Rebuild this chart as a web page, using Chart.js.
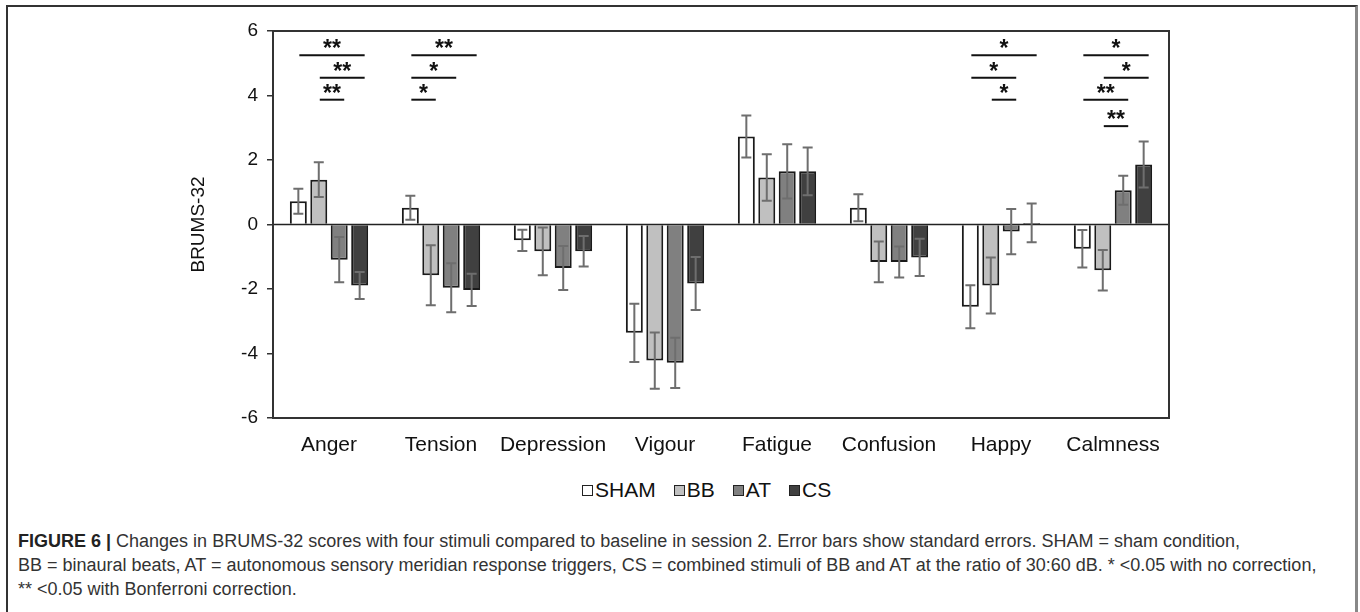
<!DOCTYPE html>
<html>
<head>
<meta charset="utf-8">
<script src="https://cdn.jsdelivr.net/npm/chart.js@4.4.0/dist/chart.umd.min.js"></script>
<style>
    body { margin: 0; width: 1360px; height: 612px; overflow: hidden; background: #fff; font-family: "Liberation Sans", Arial, sans-serif; }
    .frame { position: absolute; left: 6px; top: 5px; width: 1347px; height: 640px; border-left: 2px solid #333; border-top: 2px solid #333; border-right: 3px solid #888; }
    #wrap { position: absolute; left: 0; top: 0; width: 1360px; height: 470px; }
    #legend { position: absolute; left: 582px; top: 478px; display: flex; font-size: 21px; color: #111; }
    #legend .item { display: flex; align-items: center; margin-right: 18px; }
    #legend .box { width: 9px; height: 9px; border: 1px solid #222; margin-right: 2px; }
    .caption { position: absolute; left: 18px; top: 529px; font-size: 18px; line-height: 24px; color: #333; white-space: nowrap; }
    .caption b { color: #222; }
</style>
</head>
<body>
<div class="frame"></div>
<div id="wrap"><canvas id="chart" width="1360" height="470"></canvas></div>
<div id="legend"></div>
<div class="caption">
<b>FIGURE 6 |</b> Changes in BRUMS-32 scores with four stimuli compared to baseline in session 2. Error bars show standard errors. SHAM = sham condition,<br>
BB = binaural beats, AT = autonomous sensory meridian response triggers, CS = combined stimuli of BB and AT at the ratio of 30:60 dB. * &lt;0.05 with no correction,<br>
** &lt;0.05 with Bonferroni correction.
</div>
<script>
// values (change from baseline)
const categories = ['Anger', 'Tension', 'Depression', 'Vigour', 'Fatigue', 'Confusion', 'Happy', 'Calmness'];
const seriesNames = ['SHAM', 'BB', 'AT', 'CS'];

const sham = [0.72, 0.52, -0.49, -3.36, 2.73, 0.52, -2.55, -0.75];
const bb = [1.39, -1.57, -0.83, -4.22, 1.46, -1.16, -1.89, -1.42];
const at = [-1.09, -1.96, -1.35, -4.29, 1.65, -1.16, -0.22, 1.06];
const cs = [-1.89, -2.03, -0.83, -1.83, 1.65, -1.02, 0.05, 1.86];

// standard errors
const shamSE = [0.39, 0.37, 0.33, 0.90, 0.65, 0.42, 0.67, 0.58];
const bbSE = [0.54, 0.93, 0.74, 0.87, 0.72, 0.63, 0.87, 0.63];
const atSE = [0.70, 0.76, 0.68, 0.78, 0.84, 0.48, 0.70, 0.45];
const csSE = [0.42, 0.50, 0.47, 0.82, 0.74, 0.58, 0.60, 0.71];

const yTicks = [-6, -4, -2, 0, 2, 4, 6];

// significance brackets: category index, from series, to series, height, label
const sigCat = [0, 0, 0, 1, 1, 1, 6, 6, 6, 7, 7, 7, 7];
const sigFrom = [0, 1, 1, 0, 0, 0, 0, 0, 1, 0, 1, 0, 1];
const sigTo = [3, 3, 2, 3, 2, 1, 3, 2, 2, 3, 3, 2, 2];
const sigLevel = [5.25, 4.55, 3.87, 5.25, 4.55, 3.87, 5.25, 4.55, 3.87, 5.25, 4.55, 3.87, 3.05];
const sigLabel = ['**', '**', '**', '**', '*', '*', '*', '*', '*', '*', '*', '**', '**'];

const fills = ['#ffffff', '#c0c0c0', '#808080', '#404040'];
const values = [sham, bb, at, cs];
const errors = [shamSE, bbSE, atSE, csSE];

Chart.defaults.font.family = '"Liberation Sans", Arial, sans-serif';
Chart.defaults.color = '#111';

const datasets = seriesNames.map((name, i) => ({
    label: name,
    data: values[i],
    errors: errors[i],
    backgroundColor: fills[i],
    borderColor: '#1a1a1a',
    borderWidth: 2,
    categoryPercentage: 0.73,
    barPercentage: 0.83
}));

// frame around the plot and the zero line
const framePlugin = {
    id: 'frame',
    afterDatasetsDraw(chart) {
        const { ctx, chartArea: a, scales } = chart;
        const y0 = scales.y.getPixelForValue(0);
        ctx.save();
        ctx.strokeStyle = '#222';
        ctx.lineWidth = 1.5;
        ctx.beginPath();
        ctx.moveTo(a.left, y0);
        ctx.lineTo(a.right, y0);
        ctx.stroke();
        ctx.strokeStyle = '#333';
        ctx.lineWidth = 2;
        ctx.strokeRect(a.left, a.top, a.right - a.left, a.bottom - a.top);
        ctx.restore();
    }
};

// standard error bars
const errorBarPlugin = {
    id: 'errorBars',
    afterDatasetsDraw(chart) {
        const { ctx, scales } = chart;
        ctx.save();
        ctx.strokeStyle = '#6e6e6e';
        ctx.lineWidth = 2;
        chart.data.datasets.forEach((ds, i) => {
            chart.getDatasetMeta(i).data.forEach((bar, j) => {
                const v = ds.data[j];
                const e = ds.errors[j];
                const top = scales.y.getPixelForValue(v + e);
                const bot = scales.y.getPixelForValue(v - e);
                ctx.beginPath();
                ctx.moveTo(bar.x, top);
                ctx.lineTo(bar.x, bot);
                ctx.moveTo(bar.x - 5, top);
                ctx.lineTo(bar.x + 5, top);
                ctx.moveTo(bar.x - 5, bot);
                ctx.lineTo(bar.x + 5, bot);
                ctx.stroke();
            });
        });
        ctx.restore();
    }
};

// significance lines with asterisks
const sigPlugin = {
    id: 'sig',
    afterDatasetsDraw(chart) {
        const { ctx, scales } = chart;
        ctx.save();
        ctx.strokeStyle = '#111';
        ctx.fillStyle = '#111';
        ctx.lineWidth = 2;
        ctx.font = 'bold 23px "Liberation Sans", Arial';
        ctx.textAlign = 'center';
        ctx.textBaseline = 'alphabetic';
        sigCat.forEach((c, k) => {
            const x1 = chart.getDatasetMeta(sigFrom[k]).data[c].x + 1;
            const x2 = chart.getDatasetMeta(sigTo[k]).data[c].x + 5;
            const y = scales.y.getPixelForValue(sigLevel[k]);
            ctx.beginPath();
            ctx.moveTo(x1, y);
            ctx.lineTo(x2, y);
            ctx.stroke();
            ctx.fillText(sigLabel[k], (x1 + x2) / 2, y + 1);
        });
        ctx.restore();
    }
};

const chart = new Chart(document.getElementById('chart'), {
    type: 'bar',
    data: { labels: categories, datasets: datasets },
    options: {
        responsive: false,
        animation: false,
        layout: { padding: { left: 180, right: 191, top: 31, bottom: 0 } },
        plugins: {
            legend: { display: false },
            tooltip: { enabled: false }
        },
        scales: {
            x: {
                grid: { display: false, drawTicks: false },
                border: { display: false },
                ticks: { font: { size: 21 }, color: '#111', padding: 15, maxRotation: 0 },
                afterFit(scale) { scale.height = 52; }
            },
            y: {
                min: -6,
                max: 6,
                afterBuildTicks(scale) { scale.ticks = yTicks.map(v => ({ value: v })); },
                grid: { drawOnChartArea: false, drawTicks: true, tickLength: 6, color: '#333', lineWidth: 1.5 },
                border: { display: true, color: '#333', width: 2 },
                ticks: { font: { size: 19 }, color: '#111', padding: 9 },
                title: { display: true, text: 'BRUMS-32', font: { size: 19 }, color: '#111', padding: { top: 7, bottom: 0 } },
                afterFit(scale) { scale.width = 93; }
            }
        }
    },
    plugins: [framePlugin, errorBarPlugin, sigPlugin]
});

// legend built from the chart datasets
const legendEl = document.getElementById('legend');
chart.data.datasets.forEach(ds => {
    const item = document.createElement('div');
    item.className = 'item';
    const box = document.createElement('span');
    box.className = 'box';
    box.style.background = ds.backgroundColor;
    item.appendChild(box);
    item.appendChild(document.createTextNode(ds.label));
    legendEl.appendChild(item);
});
</script>
</body>
</html>
